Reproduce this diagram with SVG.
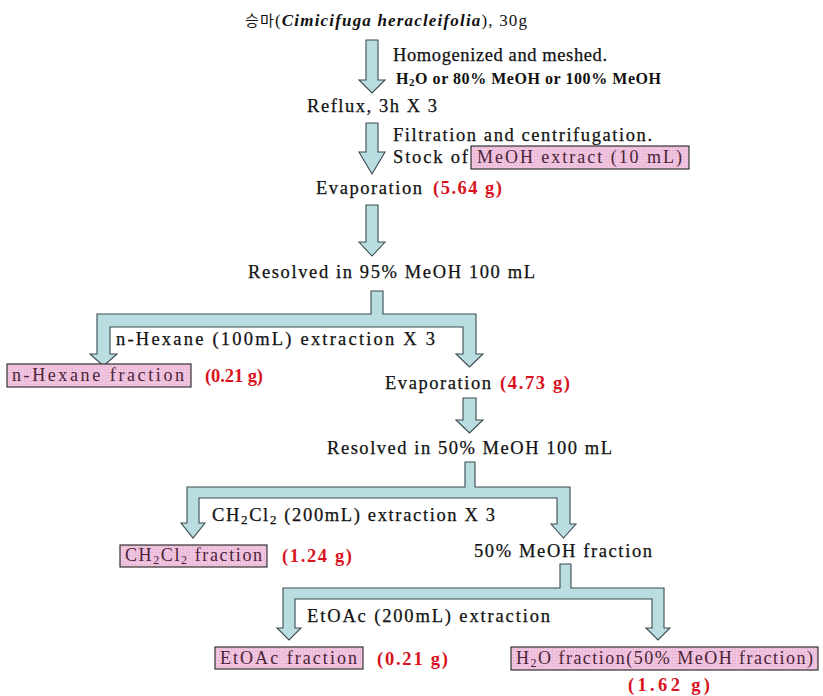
<svg xmlns="http://www.w3.org/2000/svg" width="823" height="696" viewBox="0 0 823 696">
<style>
.t{font-family:"Liberation Serif","Times New Roman",serif;font-size:18.5px;fill:#111;stroke:#111;stroke-width:0.25;}
.b{font-family:"Liberation Serif","Times New Roman",serif;font-size:16px;font-weight:bold;fill:#111;}
.r{font-family:"Liberation Serif","Times New Roman",serif;font-size:18.5px;font-weight:bold;fill:#d8121e;}
.p{font-family:"Liberation Serif","Times New Roman",serif;font-size:18px;fill:#4a2438;}
.box{fill:#f0c3de;stroke:#333;stroke-width:1.2;}
.ar{fill:#b9dde0;stroke:#3b4a4f;stroke-width:1.1;stroke-linejoin:miter;}
</style>
<defs>
<pattern id="dots" width="3" height="3" patternUnits="userSpaceOnUse">
<rect width="3" height="3" fill="#f0c3de"/>
<rect width="1" height="1" fill="#e3a9cc"/>
</pattern>
</defs>
<rect width="823" height="696" fill="#fff"/>

<g id="connectors">
<polygon class="ar" points="366,40 378,40 378,80 385,80 372,93 359,80 366,80"/>
<polygon class="ar" points="366,123 378,123 378,152 385,152 372,174 359,152 366,152"/>
<polygon class="ar" points="366,205 378,205 378,242 385,242 372,256 359,242 366,242"/>
<polygon class="ar" points="371,291 383,291 383,314 476,314 476,354 483,354 469.5,367 456,354 463,354 463,327 110,327 110,354 117,354 103.5,366 90,354 97,354 97,314 371,314"/>
<polygon class="ar" points="463,398 476,398 476,420 483,420 469.5,433 456,420 463,420"/>
<polygon class="ar" points="465,462 475,462 475,487 570,487 570,524 576,524 563.5,538 551,524 557,524 557,498 199,498 199,523 205,523 193,538 181,523 187,523 187,487 465,487"/>
<polygon class="ar" points="560,564 571,564 571,588 664,588 664,628 670,628 658,640 646,628 652,628 652,599 295,599 295,628 301,628 289,640 277,628 283,628 283,588 560,588"/>
</g>

<g id="n-start">
<text x="245" y="26" font-size="17" textLength="282" lengthAdjust="spacing" style="font-family:'Liberation Serif','Noto Sans CJK KR',serif;fill:#111"><tspan style="font-family:'Noto Sans CJK KR',sans-serif" font-size="15">승마</tspan>(<tspan font-style="italic" font-weight="bold">Cimicifuga heracleifolia</tspan>), 30g</text>
</g>
<g id="n-step1">
<text class="t" x="393" y="61" textLength="214" lengthAdjust="spacing">Homogenized and meshed.</text>
<text class="b" x="396" y="84" textLength="265" lengthAdjust="spacing">H<tspan font-size="11" dy="2">2</tspan><tspan dy="-2">O or 80% MeOH or 100% MeOH</tspan></text>
</g>
<g id="n-reflux">
<text class="t" x="307" y="112" textLength="130" lengthAdjust="spacing">Reflux, 3h X 3</text>
</g>
<g id="n-step2">
<text class="t" x="393" y="141" textLength="259" lengthAdjust="spacing">Filtration and centrifugation.</text>
<text class="t" x="393" y="163" textLength="75" lengthAdjust="spacing">Stock of</text>
</g>
<g id="n-extract">
<rect class="box" x="471" y="146" width="218" height="23" style="fill:url(#dots)"/>
<text class="p" x="477" y="163" textLength="205" lengthAdjust="spacing">MeOH extract (10 mL)</text>
</g>
<g id="n-evap1">
<text class="t" x="316" y="194" textLength="106" lengthAdjust="spacing">Evaporation</text>
<text class="r" x="433" y="194" textLength="69" lengthAdjust="spacing">(5.64 g)</text>
</g>
<g id="n-resolved95">
<text class="t" x="248" y="278" textLength="287" lengthAdjust="spacing">Resolved in 95% MeOH 100 mL</text>
</g>
<g id="n-hexstep">
<text class="t" x="116" y="345" textLength="319" lengthAdjust="spacing">n-Hexane (100mL) extraction X 3</text>
</g>
<g id="n-hexfrac">
<rect class="box" x="7" y="364" width="184" height="23" style="fill:url(#dots)"/>
<text class="p" x="12" y="381" textLength="172" lengthAdjust="spacing">n-Hexane fraction</text>
<text class="r" x="205" y="382" textLength="58" lengthAdjust="spacing">(0.21 g)</text>
</g>
<g id="n-evap2">
<text class="t" x="385" y="389" textLength="106" lengthAdjust="spacing">Evaporation</text>
<text class="r" x="500" y="389" textLength="70" lengthAdjust="spacing">(4.73 g)</text>
</g>
<g id="n-resolved50">
<text class="t" x="327" y="454" textLength="285" lengthAdjust="spacing">Resolved in 50% MeOH 100 mL</text>
</g>
<g id="n-ch2cl2step">
<text class="t" x="212" y="521" textLength="283" lengthAdjust="spacing">CH<tspan font-size="13" dy="3">2</tspan><tspan dy="-3">Cl</tspan><tspan font-size="13" dy="3">2</tspan><tspan dy="-3"> (200mL) extraction X 3</tspan></text>
</g>
<g id="n-ch2cl2frac">
<rect class="box" x="120" y="545" width="147" height="22" style="fill:url(#dots)"/>
<text class="p" x="125" y="561" textLength="137" lengthAdjust="spacing">CH<tspan font-size="12" dy="3">2</tspan><tspan dy="-3">Cl</tspan><tspan font-size="12" dy="3">2</tspan><tspan dy="-3"> fraction</tspan></text>
<text class="r" x="282" y="562" textLength="70" lengthAdjust="spacing">(1.24 g)</text>
</g>
<g id="n-meoh50">
<text class="t" x="474" y="557" textLength="178" lengthAdjust="spacing">50% MeOH fraction</text>
</g>
<g id="n-etoacstep">
<text class="t" x="307" y="622" textLength="243" lengthAdjust="spacing">EtOAc (200mL) extraction</text>
</g>
<g id="n-etoacfrac">
<rect class="box" x="215" y="647" width="148" height="22" style="fill:url(#dots)"/>
<text class="p" x="220" y="664" textLength="137" lengthAdjust="spacing">EtOAc fraction</text>
<text class="r" x="377" y="665" textLength="71" lengthAdjust="spacing">(0.21 g)</text>
</g>
<g id="n-h2ofrac">
<rect class="box" x="511" y="647" width="307" height="23" style="fill:url(#dots)"/>
<text class="p" x="516" y="664" textLength="297" lengthAdjust="spacing">H<tspan font-size="12" dy="3">2</tspan><tspan dy="-3">O fraction(50% MeOH fraction)</tspan></text>
<text class="r" x="628" y="691" textLength="82" lengthAdjust="spacing">(1.62 g)</text>
</g>
</svg>
